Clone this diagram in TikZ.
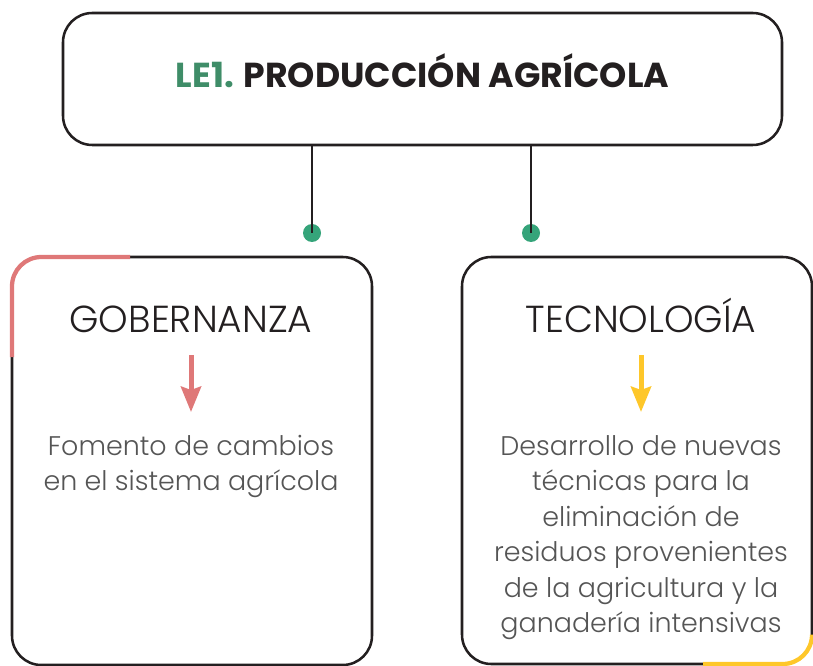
\documentclass[tikz,border=0pt]{standalone}
\usepackage{fontspec}
\setmainfont{Poppins}
\newfontfamily\lightfont{Poppins Light}
\usetikzlibrary{arrows.meta}
\definecolor{ink}{HTML}{231F20}
\definecolor{bodygray}{HTML}{555555}
\definecolor{titlegreen}{HTML}{3F8D68}
\definecolor{dotgreen}{HTML}{35A47A}
\definecolor{accentred}{HTML}{DF7878}
\definecolor{accentyellow}{HTML}{FEC72A}
\begin{document}
\begin{tikzpicture}[x=0.75pt,y=-0.75pt,
  box/.style={draw=ink, line width=1.9pt, rounded corners=22pt, outer sep=0pt, inner sep=0pt},
  dotnode/.style={circle, fill=dotgreen, minimum size=13.5pt, inner sep=0pt, outer sep=0pt},
  link/.style={draw=ink, line width=2pt},
  heading/.style={anchor=base, inner sep=0pt, text=ink, font=\lightfont\fontsize{28.2}{32}\selectfont},
  bodytext/.style={anchor=north, inner sep=0pt, align=center, text=bodygray, font=\lightfont\fontsize{20.2}{26.6}\selectfont},
  downarrow/.style={line width=3.75pt, -{Stealth[length=19pt,width=15pt,inset=2.5pt]}},
  accent/.style={line width=3.2pt, rounded corners=22pt}
]
\useasboundingbox (0,0) rectangle (813,666);

% top box
\node[box, minimum width=539.25pt, minimum height=99pt] (top) at (422.5,79) {};
\node[anchor=base, inner sep=0pt, font=\fontsize{26}{30}\selectfont\bfseries] (title) at (422.5,88)
  {\textcolor{titlegreen}{LE1.} \textcolor{ink}{PRODUCCIÓN AGRÍCOLA}};

% dots and links
\node[dotnode] (dotL) at (312,233) {};
\node[dotnode] (dotR) at (531,233) {};
\draw[link] (top.south -| dotL) -- (dotL.center);
\draw[link] (top.south -| dotR) -- (dotR.center);

% lower boxes
\node[box, minimum width=270pt, minimum height=306pt] (leftbox) at (192,461) {};
\node[box, minimum width=262.5pt, minimum height=305.25pt] (rightbox) at (637,460.5) {};

% accents
\draw[accent, draw=accentred] (12,357) -- (12,257) -- (130,257);
\draw[accent, draw=accentyellow] (703,664) -- (812,664) -- (812,640);

% headings
\node[heading] (gob) at (191,333) {GOBERNANZA};
\node[heading] (tec) at (641,333) {TECNOLOGÍA};

% body texts
\node[bodytext] (fom) at (191,435) {Fomento de cambios\\en el sistema agrícola};
\node[bodytext] (des) at (641,435) {Desarrollo de nuevas\\técnicas para la\\eliminación de\\residuos provenientes\\de la agricultura y la\\ganadería intensivas};

% arrows
\coordinate (aLs) at (191,355);
\coordinate (aLe) at (191,412);
\coordinate (aRs) at (641,355);
\coordinate (aRe) at (641,412);
\draw[downarrow, draw=accentred, fill=accentred] (aLs) -- (aLe);
\draw[downarrow, draw=accentyellow, fill=accentyellow] (aRs) -- (aRe);
\end{tikzpicture}
\end{document}
